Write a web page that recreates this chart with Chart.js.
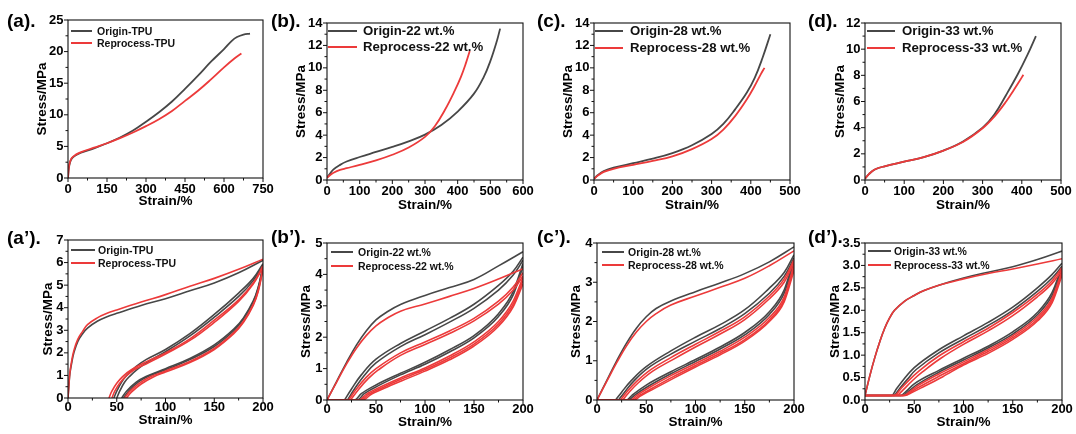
<!DOCTYPE html>
<html><head><meta charset="utf-8">
<script src="https://cdn.jsdelivr.net/npm/chart.js@4.4.1/dist/chart.umd.min.js"></script>
<style>
html,body{margin:0;padding:0;background:#fff;}
body{width:1076px;height:434px;position:relative;overflow:hidden;font-family:"Liberation Sans",Arial,sans-serif;}
canvas{position:absolute;}
.tag{position:absolute;font-weight:bold;font-size:19px;line-height:19px;color:#000;white-space:nowrap;}
.lg{position:absolute;font-weight:bold;color:#111;white-space:nowrap;}
.lgline{position:absolute;height:2px;}
</style></head><body>
<script>
// ---------- tick values ----------
const aXTicks = [0,150,300,450,600,750];
const aYTicks = [0,5,10,15,20,25];
const bXTicks = [0,100,200,300,400,500,600];
const bYTicks = [0,2,4,6,8,10,12,14];
const cXTicks = [0,100,200,300,400,500];
const cYTicks = [0,2,4,6,8,10,12,14];
const dXTicks = [0,100,200,300,400,500];
const dYTicks = [0,2,4,6,8,10,12];
const cycXTicks = [0,50,100,150,200];
const a2YTicks = [0,1,2,3,4,5,6,7];
const b2YTicks = [0,1,2,3,4,5];
const c2YTicks = [0,1,2,3,4];
const d2YTicks = [0,0.5,1,1.5,2,2.5,3,3.5];

// ---------- legend labels ----------
const aLabels = ['Origin-TPU','Reprocess-TPU'];
const bLabels = ['Origin-22 wt.%','Reprocess-22 wt.%'];
const cLabels = ['Origin-28 wt.%','Reprocess-28 wt.%'];
const dLabels = ['Origin-33 wt.%','Reprocess-33 wt.%'];

// ---------- (a) tensile ----------
const a_origin = [[0,0],[3,1.5],[8,2.5],[15,3.1],[30,3.6],[50,4.0],[100,4.7],[150,5.5],[200,6.4],[250,7.5],[300,8.9],[350,10.4],[400,12.1],[450,14.1],[500,16.2],[550,18.4],[600,20.4],[630,21.7],[650,22.3],[675,22.7],[700,22.85]];
const a_reprocess = [[0,0],[3,1.6],[8,2.6],[15,3.2],[30,3.7],[50,4.1],[100,4.8],[150,5.5],[200,6.3],[250,7.2],[300,8.2],[350,9.3],[400,10.6],[450,12.2],[500,13.8],[550,15.6],[600,17.5],[640,18.9],[667,19.7]];
// ---------- (b) ----------
const b_origin = [[0,0.2],[10,0.6],[20,0.95],[40,1.35],[60,1.65],[100,2.05],[150,2.5],[200,2.95],[250,3.45],[300,4.05],[350,4.9],[400,6.1],[450,7.7],[480,9.2],[500,10.6],[520,12.4],[530,13.5]];
const b_reprocess = [[0,0.2],[10,0.45],[20,0.65],[40,0.9],[60,1.05],[100,1.35],[150,1.75],[200,2.25],[250,2.9],[300,3.85],[330,4.8],[360,6.2],[390,7.9],[410,9.2],[425,10.4],[437,11.5]];
// ---------- (c) ----------
const c_origin = [[0,0.1],[10,0.45],[25,0.8],[50,1.1],[100,1.5],[150,1.9],[200,2.4],[250,3.1],[300,4.1],[330,5.0],[360,6.3],[390,7.8],[410,9.1],[430,10.9],[450,13.0]];
const c_reprocess = [[0,0.1],[10,0.4],[25,0.72],[50,1.0],[100,1.35],[150,1.7],[200,2.1],[250,2.75],[300,3.65],[330,4.5],[360,5.7],[390,7.2],[410,8.4],[425,9.4],[435,10.0]];
// ---------- (d) ----------
const d_origin = [[0,0.1],[10,0.45],[25,0.8],[50,1.05],[100,1.4],[150,1.75],[200,2.25],[250,2.95],[300,4.0],[330,5.0],[360,6.5],[390,8.1],[415,9.6],[436,11.0]];
const d_reprocess = [[0,0.1],[10,0.45],[25,0.8],[50,1.05],[100,1.4],[150,1.75],[200,2.25],[250,2.9],[300,3.95],[330,4.85],[360,6.0],[380,6.9],[395,7.6],[404,8.05]];

// ---------- (a') cyclic ----------
const a2_origin_load = [[0,0],[1,0.6],[2,1.1],[4,1.6],[6,2.0],[10,2.5],[15,2.85],[20,3.1],[30,3.4],[40,3.6],[50,3.75],[75,4.1],[100,4.4],[125,4.75],[150,5.1],[175,5.55],[200,6.1]];
const a2_origin_reload1 = [[47,0],[50,0.3],[55,0.7],[60,1.0],[70,1.4],[80,1.7],[100,2.15],[125,2.85],[150,3.7],[175,4.65],[190,5.3],[200,5.95]];
const a2_origin_reload2 = [[50,0],[53,0.3],[58,0.7],[63,0.95],[72,1.3],[82,1.6],[100,2.05],[125,2.75],[150,3.58],[175,4.5],[190,5.2],[200,5.9]];
const a2_origin_unload1 = [[55,0],[60,0.3],[70,0.7],[80,0.95],[100,1.3],[125,1.75],[150,2.35],[170,3.05],[180,3.55],[190,4.3],[195,4.9],[200,5.85]];
const a2_origin_unload2 = [[57,0],[62,0.3],[72,0.7],[82,0.95],[100,1.25],[125,1.7],[150,2.28],[170,2.98],[180,3.5],[190,4.25],[195,4.85],[200,5.8]];
const a2_reprocess_load = [[0,0],[1,0.65],[2,1.15],[4,1.7],[6,2.1],[10,2.6],[15,2.95],[20,3.25],[30,3.55],[40,3.75],[50,3.9],[75,4.25],[100,4.58],[125,4.95],[150,5.3],[175,5.7],[200,6.15]];
const a2_reprocess_reload1 = [[42,0],[45,0.3],[50,0.65],[56,0.95],[65,1.25],[80,1.6],[100,2.0],[125,2.62],[150,3.45],[175,4.35],[190,5.1],[200,5.85]];
const a2_reprocess_reload2 = [[45,0],[48,0.3],[53,0.65],[59,0.95],[68,1.25],[82,1.55],[100,1.95],[125,2.55],[150,3.35],[175,4.28],[190,5.05],[200,5.8]];
const a2_reprocess_unload1 = [[58,0],[63,0.28],[73,0.65],[85,0.95],[100,1.2],[125,1.62],[150,2.2],[170,2.9],[180,3.4],[190,4.15],[195,4.75],[200,5.75]];
const a2_reprocess_unload2 = [[60,0],[65,0.26],[75,0.62],[87,0.92],[100,1.15],[125,1.57],[150,2.15],[170,2.85],[180,3.35],[190,4.1],[195,4.7],[200,5.7]];

// ---------- (b') ----------
const b2_origin_load = [[0,0],[10,0.6],[20,1.2],[30,1.75],[40,2.2],[50,2.55],[60,2.78],[75,3.04],[100,3.33],[125,3.58],[150,3.84],[175,4.27],[200,4.72]];
const b2_origin_reload1 = [[18,0],[25,0.35],[35,0.8],[50,1.3],[75,1.8],[100,2.2],[125,2.6],[150,3.05],[175,3.65],[190,4.1],[200,4.55]];
const b2_origin_reload2 = [[21,0],[28,0.35],[38,0.78],[50,1.18],[75,1.7],[100,2.08],[125,2.48],[150,2.92],[175,3.5],[190,3.98],[200,4.45]];
const b2_origin_unload1 = [[0,0],[28,0],[35,0.2],[50,0.48],[75,0.85],[100,1.2],[125,1.6],[150,2.05],[175,2.75],[190,3.45],[200,4.35]];
const b2_origin_unload2 = [[0,0],[31,0],[38,0.2],[52,0.45],[75,0.8],[100,1.14],[125,1.53],[150,1.98],[175,2.66],[190,3.35],[200,4.25]];
const b2_reprocess_load = [[0,0],[10,0.58],[20,1.15],[30,1.65],[40,2.05],[50,2.36],[60,2.58],[75,2.83],[100,3.06],[125,3.3],[150,3.55],[175,3.85],[200,4.18]];
const b2_reprocess_reload1 = [[22,0],[30,0.35],[40,0.72],[50,1.0],[75,1.5],[100,1.85],[125,2.2],[150,2.6],[175,3.15],[190,3.6],[200,4.05]];
const b2_reprocess_reload2 = [[24,0],[32,0.33],[42,0.68],[52,0.95],[75,1.42],[100,1.77],[125,2.12],[150,2.52],[175,3.05],[190,3.5],[200,3.95]];
const b2_reprocess_unload1 = [[0,0],[33,0],[40,0.18],[55,0.42],[75,0.7],[100,1.02],[125,1.4],[150,1.85],[175,2.5],[190,3.15],[200,3.9]];
const b2_reprocess_unload2 = [[0,0],[35,0],[42,0.17],[57,0.4],[75,0.65],[100,0.97],[125,1.34],[150,1.78],[175,2.42],[190,3.05],[200,3.8]];
const b2_reprocess_unload3 = [[0,0],[37,0],[44,0.16],[59,0.38],[77,0.62],[100,0.92],[125,1.28],[150,1.72],[175,2.35],[190,2.97],[200,3.7]];

// ---------- (c') ----------
const c2_origin_load = [[0,0],[10,0.5],[20,1.0],[30,1.45],[40,1.83],[50,2.12],[60,2.33],[75,2.52],[100,2.76],[125,2.98],[150,3.22],[175,3.52],[200,3.9]];
const c2_origin_reload1 = [[19,0],[25,0.2],[35,0.5],[50,0.85],[75,1.25],[100,1.6],[125,1.92],[150,2.3],[175,2.85],[190,3.25],[200,3.7]];
const c2_origin_reload2 = [[22,0],[28,0.2],[38,0.5],[52,0.82],[75,1.17],[100,1.5],[125,1.82],[150,2.2],[175,2.72],[190,3.15],[200,3.62]];
const c2_origin_unload1 = [[0,0],[30,0],[36,0.13],[50,0.38],[75,0.72],[100,1.03],[125,1.35],[150,1.72],[175,2.25],[190,2.8],[200,3.6]];
const c2_origin_unload2 = [[0,0],[32,0],[38,0.12],[52,0.35],[75,0.67],[100,0.98],[125,1.3],[150,1.66],[175,2.18],[190,2.72],[200,3.5]];
const c2_reprocess_load = [[0,0],[10,0.48],[20,0.95],[30,1.38],[40,1.73],[50,2.0],[60,2.2],[75,2.42],[100,2.65],[125,2.87],[150,3.1],[175,3.42],[200,3.8]];
const c2_reprocess_reload1 = [[24,0],[30,0.2],[40,0.47],[55,0.78],[75,1.08],[100,1.42],[125,1.75],[150,2.12],[175,2.65],[190,3.08],[200,3.58]];
const c2_reprocess_reload2 = [[26,0],[32,0.18],[42,0.44],[57,0.74],[77,1.03],[100,1.35],[125,1.68],[150,2.05],[175,2.58],[190,3.0],[200,3.52]];
const c2_reprocess_unload1 = [[0,0],[34,0],[40,0.11],[54,0.33],[75,0.62],[100,0.93],[125,1.24],[150,1.6],[175,2.1],[190,2.62],[200,3.45]];
const c2_reprocess_unload2 = [[0,0],[36,0],[42,0.1],[56,0.3],[77,0.59],[100,0.88],[125,1.19],[150,1.54],[175,2.04],[190,2.55],[200,3.38]];
const c2_reprocess_unload3 = [[0,0],[38,0],[44,0.1],[58,0.29],[79,0.57],[100,0.84],[125,1.15],[150,1.5],[175,2.0],[190,2.5],[200,3.3]];

// ---------- (d') ----------
const d2_origin_load = [[0,0.1],[5,0.55],[10,0.95],[15,1.3],[20,1.6],[25,1.83],[30,2.0],[40,2.2],[50,2.33],[60,2.44],[75,2.56],[100,2.72],[125,2.85],[150,2.97],[175,3.13],[200,3.32]];
const d2_origin_reload1 = [[0,0.1],[27,0.1],[32,0.25],[40,0.48],[50,0.72],[75,1.12],[100,1.43],[125,1.73],[150,2.07],[175,2.5],[190,2.8],[200,3.05]];
const d2_origin_reload2 = [[30,0.1],[35,0.25],[43,0.46],[52,0.68],[75,1.05],[100,1.36],[125,1.66],[150,2.0],[175,2.42],[190,2.72],[200,2.98]];
const d2_origin_unload1 = [[0,0.1],[36,0.1],[42,0.2],[50,0.36],[75,0.66],[100,0.93],[125,1.2],[150,1.52],[175,1.95],[190,2.4],[200,2.98]];
const d2_origin_unload2 = [[0,0.1],[38,0.1],[44,0.19],[52,0.33],[75,0.62],[100,0.89],[125,1.16],[150,1.47],[175,1.9],[190,2.33],[200,2.92]];
const d2_reprocess_load = [[0,0.1],[5,0.55],[10,0.95],[15,1.3],[20,1.6],[25,1.83],[30,2.0],[40,2.2],[50,2.33],[60,2.44],[75,2.56],[100,2.7],[125,2.82],[150,2.92],[175,3.03],[200,3.15]];
const d2_reprocess_reload1 = [[0,0.1],[30,0.1],[36,0.24],[45,0.45],[55,0.65],[75,0.98],[100,1.3],[125,1.6],[150,1.95],[175,2.36],[190,2.66],[200,2.95]];
const d2_reprocess_reload2 = [[33,0.1],[39,0.23],[48,0.43],[58,0.62],[77,0.93],[100,1.24],[125,1.54],[150,1.88],[175,2.3],[190,2.6],[200,2.9]];
const d2_reprocess_unload1 = [[0,0.1],[39,0.1],[45,0.18],[53,0.31],[75,0.58],[100,0.85],[125,1.12],[150,1.43],[175,1.85],[190,2.27],[200,2.88]];
const d2_reprocess_unload2 = [[0,0.1],[40,0.1],[46,0.17],[55,0.29],[77,0.55],[100,0.81],[125,1.08],[150,1.39],[175,1.8],[190,2.22],[200,2.83]];
const d2_reprocess_unload3 = [[0,0.1],[41,0.1],[47,0.16],[57,0.27],[79,0.52],[100,0.78],[125,1.04],[150,1.35],[175,1.76],[190,2.17],[200,2.78]];

// ---------- styles ----------
const GRAY = '#474747';
const RED = '#ec3a3a';
const FONT = '"Liberation Sans", Arial, sans-serif';

const panels = [
 {tag:'(a).', tagX:7, tagB:27, L:68,R:263,T:20,B:178, xT:aXTicks, yT:aYTicks, yDec:0, lw:1.8,
  origin:[a_origin], reprocess:[a_reprocess], labels:aLabels,
  lg:{x0:71,x1:92,tx:97,y:[31,43.3],fs:10.5}, ytd:26, xlp:0, xtp:14},
 {tag:'(b).', tagX:271, tagB:27, L:327,R:523,T:23,B:180, xT:bXTicks, yT:bYTicks, yDec:0, lw:1.8,
  origin:[b_origin], reprocess:[b_reprocess], labels:bLabels,
  lg:{x0:328,x1:357,tx:363,y:[30.7,47.3],fs:13.2}, ytd:25.5, xlp:0, xtp:12},
 {tag:'(c).', tagX:537, tagB:27, L:594,R:790,T:23,B:180, xT:cXTicks, yT:cYTicks, yDec:0, lw:1.8,
  origin:[c_origin], reprocess:[c_reprocess], labels:cLabels,
  lg:{x0:595,x1:623,tx:630,y:[30.7,47.7],fs:13.2}, ytd:25.7, xlp:0, xtp:12},
 {tag:'(d).', tagX:808, tagB:27, L:865,R:1061,T:23,B:180, xT:dXTicks, yT:dYTicks, yDec:0, lw:1.8,
  origin:[d_origin], reprocess:[d_reprocess], labels:dLabels,
  lg:{x0:867,x1:895,tx:902,y:[30.7,47.7],fs:13.2}, ytd:25, xlp:0, xtp:12},
 {tag:'(a\u2019).', tagX:7, tagB:244, L:68,R:263,T:240,B:398, xT:cycXTicks, yT:a2YTicks, yDec:0, lw:1.6,
  origin:[a2_origin_load,a2_origin_reload1,a2_origin_reload2,a2_origin_unload1,a2_origin_unload2],
  reprocess:[a2_reprocess_load,a2_reprocess_reload1,a2_reprocess_reload2,a2_reprocess_unload1,a2_reprocess_unload2],
  labels:aLabels, lg:{x0:71,x1:95,tx:98,y:[250.3,263],fs:10.5}, ytd:20, xlp:-2, xtp:15},
 {tag:'(b\u2019).', tagX:271, tagB:242.6, L:327,R:523,T:243,B:400, xT:cycXTicks, yT:b2YTicks, yDec:0, lw:1.6,
  origin:[b2_origin_load,b2_origin_reload1,b2_origin_reload2,b2_origin_unload1,b2_origin_unload2],
  reprocess:[b2_reprocess_load,b2_reprocess_reload1,b2_reprocess_reload2,b2_reprocess_unload1,b2_reprocess_unload2,b2_reprocess_unload3],
  labels:bLabels, lg:{x0:331,x1:353,tx:358,y:[252,266],fs:10.5}, ytd:20.3, xlp:-2, xtp:15},
 {tag:'(c\u2019).', tagX:537, tagB:242.6, L:597,R:794,T:243,B:400, xT:cycXTicks, yT:c2YTicks, yDec:0, lw:1.6,
  origin:[c2_origin_load,c2_origin_reload1,c2_origin_reload2,c2_origin_unload1,c2_origin_unload2],
  reprocess:[c2_reprocess_load,c2_reprocess_reload1,c2_reprocess_reload2,c2_reprocess_unload1,c2_reprocess_unload2,c2_reprocess_unload3],
  labels:cLabels, lg:{x0:602,x1:624,tx:628,y:[252,265.3],fs:10.5}, ytd:20.3, xlp:-2, xtp:15},
 {tag:'(d\u2019).', tagX:808, tagB:242.6, L:865,R:1062,T:243,B:400, xT:cycXTicks, yT:d2YTicks, yDec:1, lw:1.6,
  origin:[d2_origin_load,d2_origin_reload1,d2_origin_reload2,d2_origin_unload1,d2_origin_unload2],
  reprocess:[d2_reprocess_load,d2_reprocess_reload1,d2_reprocess_reload2,d2_reprocess_unload1,d2_reprocess_unload2,d2_reprocess_unload3],
  labels:dLabels, lg:{x0:868,x1:891,tx:894,y:[251.3,265.3],fs:10.5}, ytd:29.5, xlp:-2, xtp:15}
];

const PADL = 70, PADT = 25, PADR = 22, PADB = 45;

const framePlugin = {
  id: 'frame',
  afterDraw(chart) {
    const {ctx, chartArea: {left, right, top, bottom}} = chart;
    const xs = chart.scales.x, ys = chart.scales.y;
    ctx.save();
    ctx.strokeStyle = '#111';
    ctx.lineWidth = 1.1;
    ctx.strokeRect(left, top, right - left, bottom - top);
    ctx.lineWidth = 1;
    ctx.beginPath();
    const xt = xs.ticks.map(t => t.value), yt = ys.ticks.map(t => t.value);
    xt.forEach(v => { const p = xs.getPixelForValue(v); ctx.moveTo(p, bottom); ctx.lineTo(p, bottom + 4); });
    yt.forEach(v => { const p = ys.getPixelForValue(v); ctx.moveTo(left, p); ctx.lineTo(left - 4, p); });
    for (let i = 0; i < xt.length - 1; i++) { const p = xs.getPixelForValue((xt[i] + xt[i+1]) / 2); ctx.moveTo(p, bottom); ctx.lineTo(p, bottom + 2.5); }
    for (let i = 0; i < yt.length - 1; i++) { const p = ys.getPixelForValue((yt[i] + yt[i+1]) / 2); ctx.moveTo(left, p); ctx.lineTo(left - 2.5, p); }
    ctx.stroke();
    ctx.restore();
  }
};

function toXY(arr) { return arr.map(([x, y]) => ({x, y})); }
function hasFlat(arr) { for (let i = 1; i < arr.length; i++) if (arr[i][1] === arr[i-1][1]) return true; return false; }
function lineDs(label, arr, col, lw) {
  const flat = hasFlat(arr);
  return {label, data: toXY(arr), borderColor: col, borderWidth: lw, pointRadius: 0, fill: false,
          cubicInterpolationMode: flat ? 'monotone' : 'default', tension: 0.4};
}

panels.forEach((p, idx) => {
  const cv = document.createElement('canvas');
  const w = p.R - p.L + PADL + PADR, h = p.B - p.T + PADT + PADB;
  cv.width = w; cv.height = h;
  cv.style.left = (p.L - PADL) + 'px';
  cv.style.top = (p.T - PADT) + 'px';
  cv.style.width = w + 'px'; cv.style.height = h + 'px';
  cv.style.zIndex = 10 + idx;
  document.body.appendChild(cv);

  const datasets = [];
  p.reprocess.forEach((arr, i) => datasets.push(lineDs(i === 0 ? p.labels[1] : '', arr, RED, p.lw)));
  p.origin.forEach((arr, i) => datasets.push(lineDs(i === 0 ? p.labels[0] : '', arr, GRAY, p.lw)));

  const xT = p.xT, yT = p.yT;
  new Chart(cv, {
    type: 'line',
    data: {datasets},
    options: {
      responsive: false, animation: false, devicePixelRatio: 1,
      layout: {padding: {left: 0, top: PADT, right: PADR, bottom: 0}},
      plugins: {legend: {display: false}, tooltip: {enabled: false}},
      scales: {
        x: {
          type: 'linear', min: xT[0], max: xT[xT.length - 1],
          afterBuildTicks: s => { s.ticks = xT.map(v => ({value: v})); },
          afterFit: s => { s.height = PADB; },
          grid: {display: false, drawTicks: false}, border: {display: false},
          ticks: {color: '#000', font: {family: FONT, size: 13, weight: 'bold'}, padding: 4 + p.xlp, maxRotation: 0, autoSkip: false,
                  callback: v => String(v)},
          title: {display: true, text: 'Strain/%', color: '#000', font: {family: FONT, size: 13.5, weight: 'bold'}, padding: {top: 0, bottom: p.xtp - 0.1}}
        },
        y: {
          type: 'linear', min: yT[0], max: yT[yT.length - 1],
          afterBuildTicks: s => { s.ticks = yT.map(v => ({value: v})); },
          afterFit: s => { s.width = PADL; },
          grid: {display: false, drawTicks: false}, border: {display: false},
          ticks: {color: '#000', font: {family: FONT, size: 13, weight: 'bold'}, padding: 4.5, autoSkip: false,
                  callback: v => Number(v).toFixed(p.yDec)},
          title: {display: true, text: 'Stress/MPa', color: '#000', font: {family: FONT, size: 13.5, weight: 'bold'}, padding: {top: PADL - p.ytd - 8.1, bottom: 0}}
        }
      }
    },
    plugins: [framePlugin]
  });

  // panel tag
  const t = document.createElement('div');
  t.className = 'tag'; t.textContent = p.tag;
  t.style.left = p.tagX + 'px'; t.style.top = (p.tagB - 16.1) + 'px';
  t.style.zIndex = 100;
  document.body.appendChild(t);

  // legend
  [GRAY, RED].forEach((col, i) => {
    const ln = document.createElement('div');
    ln.className = 'lgline';
    ln.style.background = col;
    ln.style.left = p.lg.x0 + 'px'; ln.style.width = (p.lg.x1 - p.lg.x0) + 'px';
    ln.style.top = (p.lg.y[i] - 1) + 'px'; ln.style.zIndex = 100;
    document.body.appendChild(ln);
    const tx = document.createElement('div');
    tx.className = 'lg'; tx.textContent = p.labels[i];
    const lh = Math.round(p.lg.fs * 1.2);
    tx.style.fontSize = p.lg.fs + 'px'; tx.style.lineHeight = lh + 'px';
    tx.style.left = p.lg.tx + 'px'; tx.style.top = (p.lg.y[i] - lh / 2) + 'px';
    tx.style.zIndex = 100;
    document.body.appendChild(tx);
  });
});
</script>
</body></html>
